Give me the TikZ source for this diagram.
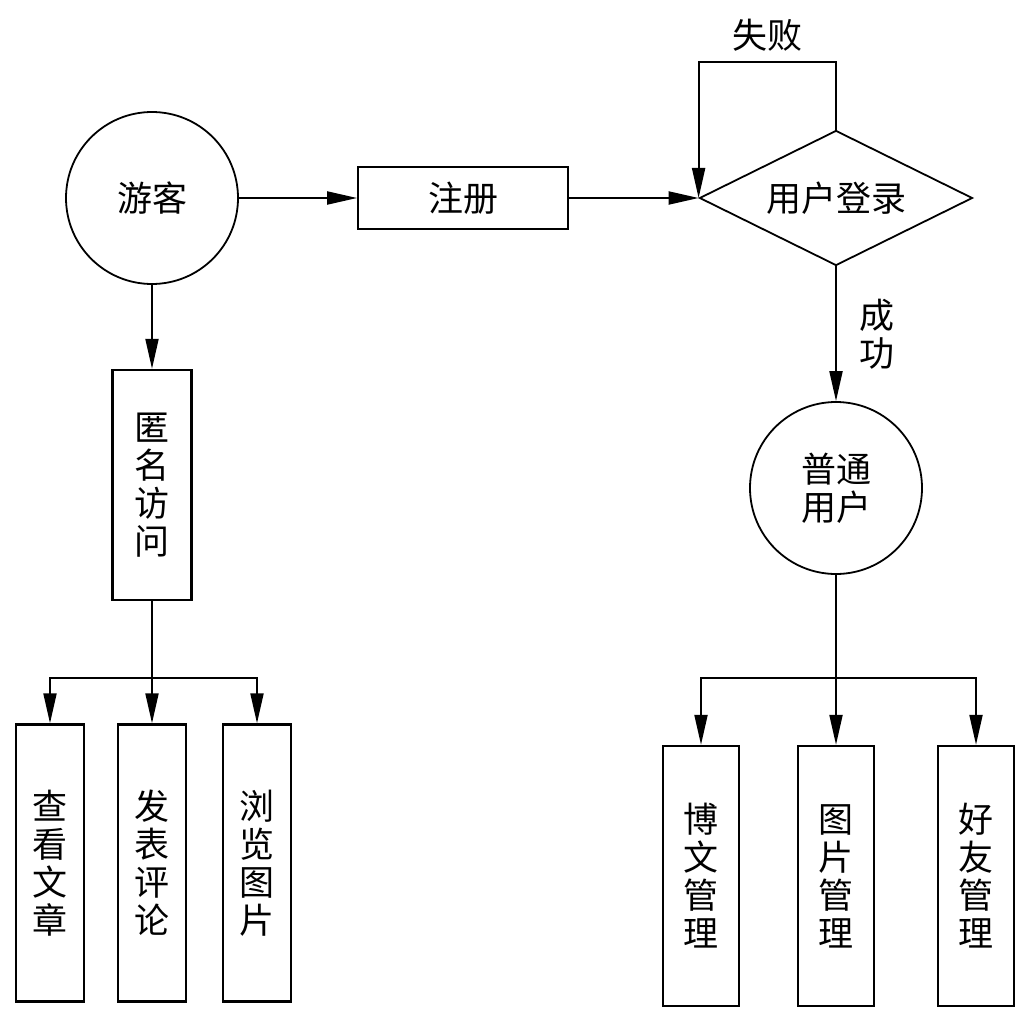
\documentclass[tikz,border=0pt]{standalone}
\usepackage{fontspec}
\newfontfamily\cjk{Noto Sans CJK SC}
\usetikzlibrary{arrows.meta,shapes.geometric}

\begin{document}
\begin{tikzpicture}[x=1pt,y=-1pt,
  font=\cjk\fontsize{35}{38}\selectfont,
  box/.style={draw,line width=2.4pt,inner sep=0pt,align=center},
  actor/.style={draw,ellipse,line width=1.8pt,inner sep=0pt,align=center,
    minimum width=172pt,minimum height=172pt},
  flow/.style={line width=2pt,-{Triangle[length=30pt,width=13pt]}},
  lbl/.style={inner sep=0pt,align=center}]
  \useasboundingbox (0,0) rectangle (1030,1027);

  % top row
  \node[actor] (guest) at (152,198) {游客};
  \node[box,line width=1.8pt,minimum width=210pt,minimum height=62pt] (reg) at (463,198) {注册};
  \node[draw,diamond,aspect=2,line width=1.8pt,inner sep=0pt,
    minimum width=273pt,minimum height=135pt] (login) at (836,198) {用户登录};
  \node[actor] (user) at (836,488) {普通\\用户};

  % anonymous branch
  \node[box,minimum width=79pt,minimum height=230pt] (anon) at (152,485) {匿\\名\\访\\问};
  \node[box,minimum width=68pt,minimum height=277pt] (view) at (50,863) {查\\看\\文\\章};
  \node[box,minimum width=68pt,minimum height=277pt] (comment) at (152,863) {发\\表\\评\\论};
  \node[box,minimum width=68pt,minimum height=277pt] (browse) at (257,863) {浏\\览\\图\\片};

  % user branch
  \node[box,minimum width=76pt,minimum height=260pt] (blog) at (701,876) {博\\文\\管\\理};
  \node[box,minimum width=76pt,minimum height=260pt] (photo) at (836,876) {图\\片\\管\\理};
  \node[box,minimum width=76pt,minimum height=260pt] (friend) at (976,876) {好\\友\\管\\理};

  \coordinate (anonfork) at (152,678);
  \coordinate (userfork) at (836,678);
  \coordinate (looptop) at (836,62);

  % connectors
  \draw[flow] (guest) -- (reg);
  \draw[flow] (reg) -- (login.west);
  \draw[flow] (login.north) -- (looptop) -- (looptop -| login.west)
    node[lbl,midway,above=10pt] {失败} -- (login.west);
  \draw[flow] (login.south) -- (user.north) node[lbl,midway,right=22pt] {成\\功};
  \draw[flow] (guest) -- (anon);

  \draw[line width=2pt] (anon.south) -- (anonfork);
  \draw[flow] (anonfork) -| (view.north);
  \draw[flow] (anonfork) -- (comment.north);
  \draw[flow] (anonfork) -| (browse.north);

  \draw[line width=2pt] (user.south) -- (userfork);
  \draw[flow] (userfork) -| (blog.north);
  \draw[flow] (userfork) -- (photo.north);
  \draw[flow] (userfork) -| (friend.north);
\end{tikzpicture}
\end{document}
